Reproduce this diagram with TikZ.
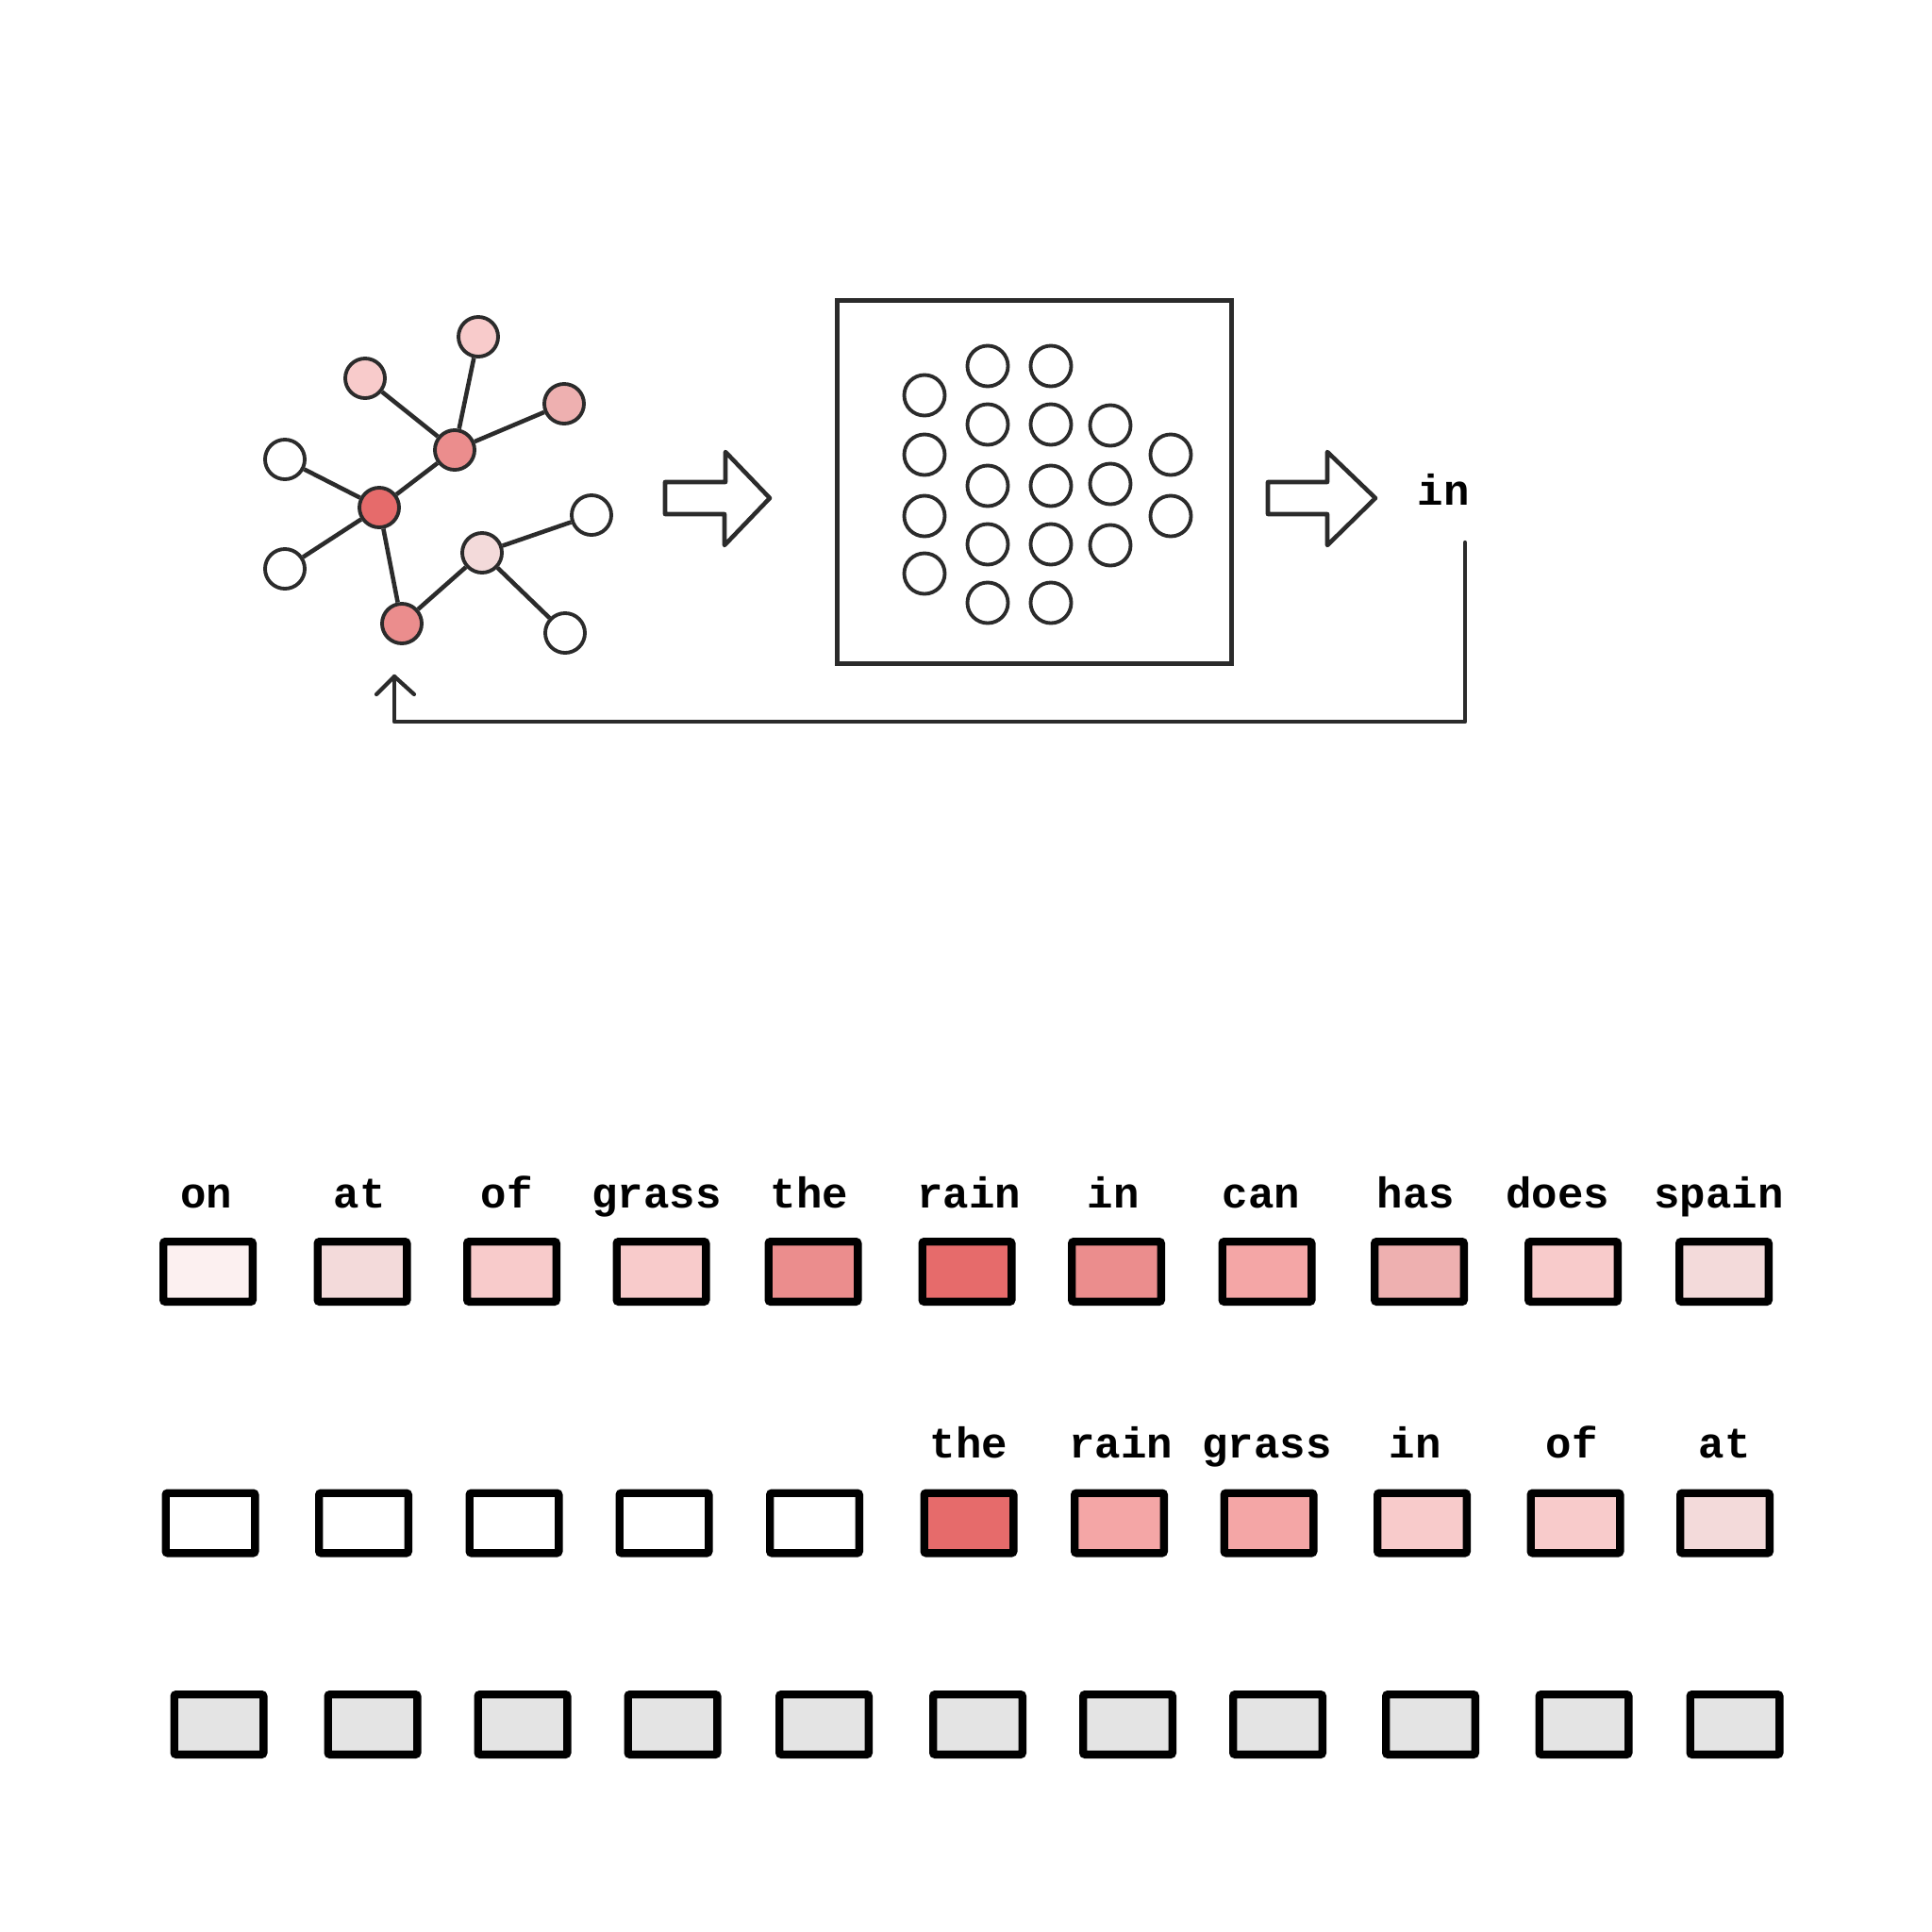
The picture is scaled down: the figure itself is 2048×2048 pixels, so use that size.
\documentclass[tikz,border=0pt]{standalone}
\usepackage{fontspec}
\setmonofont{Liberation Mono}
\definecolor{ink}{HTML}{2B2B2B}
\definecolor{rA}{HTML}{E66B6B}
\definecolor{rB}{HTML}{EB8D8D}
\definecolor{rC}{HTML}{F4A6A6}
\definecolor{rD}{HTML}{EEB0B0}
\definecolor{rE}{HTML}{F8CBCB}
\definecolor{rF}{HTML}{F3DADA}
\definecolor{rG}{HTML}{FCF0F0}
\definecolor{gry}{HTML}{E4E4E4}
\begin{document}
\begin{tikzpicture}[x=0.01cm,y=-0.01cm,
  edge/.style={draw=ink,line width=1.3pt},
  gnode/.style={circle,draw=ink,line width=1.1pt,minimum size=0.42cm,inner sep=0pt,fill=white},
  cnode/.style={circle,draw=ink,line width=1.1pt,minimum size=0.43cm,inner sep=0pt},
  blockarrow/.style={draw=ink,line width=1.3pt,line join=round,fill=white},
  wbox/.style={rectangle,draw=black,line width=2.4pt,minimum width=0.945cm,minimum height=0.635cm,inner sep=0pt,rounded corners=0.6pt},
  wlabel/.style={anchor=base,font=\ttfamily\bfseries\fontsize{13}{13}\selectfont,inner sep=0pt},
]
\useasboundingbox[fill=white] (0,0) rectangle (2048,2048);

% graph
\node[gnode,fill=rE] (A) at (507,357) {};
\node[gnode,fill=rE] (B) at (387,401) {};
\node[gnode,fill=rD] (C) at (598,428) {};
\node[gnode,fill=rB] (D) at (482,477) {};
\node[gnode] (E) at (302,487) {};
\node[gnode,fill=rA] (F) at (402,538) {};
\node[gnode] (G) at (627,546) {};
\node[gnode,fill=rF] (H) at (511,586) {};
\node[gnode] (I) at (302,603) {};
\node[gnode,fill=rB] (J) at (426,661) {};
\node[gnode] (K) at (599,671) {};
\foreach \a/\b in {B/D,A/D,C/D,D/F,E/F,I/F,F/J,J/H,H/G,H/K}
  \draw[edge] (\a) -- (\b);

% block arrow 1
\draw[blockarrow] (705,511) -- (769,511) -- (769,479) -- (816,528) -- (768,578) -- (768,545) -- (705,545) -- cycle;

% network box
\node[draw=ink,line width=1.4pt,minimum width=4.17cm,minimum height=3.84cm,inner sep=0pt] (net) at (1096.5,511) {};
\foreach \x/\y [count=\i] in {980/419,980/482,980/547,980/608,
  1047/388,1047/450,1047/515,1047/577,1047/639,
  1114/388,1114/450,1114/515,1114/577,1114/639,
  1177/451,1177/513,1177/578,
  1241/482,1241/547}
  \node[cnode] (n\i) at (\x,\y) {};

% block arrow 2
\draw[blockarrow] (1344,511) -- (1407,511) -- (1407,479) -- (1458,528) -- (1407,578) -- (1407,545) -- (1344,545) -- cycle;

% output word
\node[anchor=base,font=\ttfamily\bfseries\fontsize{13}{13}\selectfont,inner sep=0pt] (out) at (1530,535) {in};

% feedback
\coordinate (fbstart) at (1553,575);
\coordinate (fbend) at (418,717);
\draw[draw=ink,line width=1.2pt,line join=round,line cap=round] (fbstart) -- (1553,765) -- (418,765) -- (fbend);
\draw[draw=ink,line width=1.2pt,line join=round,line cap=round] (399,736) -- (fbend) -- (439,736);

% row 1
\foreach \x/\c/\w/\lx [count=\i] in {220.5/rG/on/219,384/rF/at/381,542.5/rE/of/537,701/rE/grass/696,862/rB/the/858,1025/rA/rain/1027,1183.5/rB/in/1180,1343/rC/can/1337,1504.5/rD/has/1501,1667.5/rE/does/1651,1827.5/rF/spain/1822}{
  \node[wbox,fill=\c] (a\i) at (\x,1348) {};
  \node[wlabel] (la\i) at (\lx,1280) {\w};
}

% row 2
\foreach \x [count=\i] in {223,385.5,545,704,863.5}
  \node[wbox,fill=white] (b\i) at (\x,1614.5) {};
\foreach \x/\c/\w/\lx [count=\i from 6] in {1027/rA/the/1027,1186.5/rC/rain/1188,1345/rC/grass/1343,1507.5/rE/in/1500,1670/rE/of/1666,1828.5/rF/at/1828}{
  \node[wbox,fill=\c] (b\i) at (\x,1614.5) {};
  \node[wlabel] (lb\i) at (\lx,1545) {\w};
}

% row 3
\foreach \x [count=\i] in {232,395,554,713,873.5,1036.5,1195.5,1354.5,1516.5,1679,1839}
  \node[wbox,fill=gry] (c\i) at (\x,1828) {};
\end{tikzpicture}
\end{document}
